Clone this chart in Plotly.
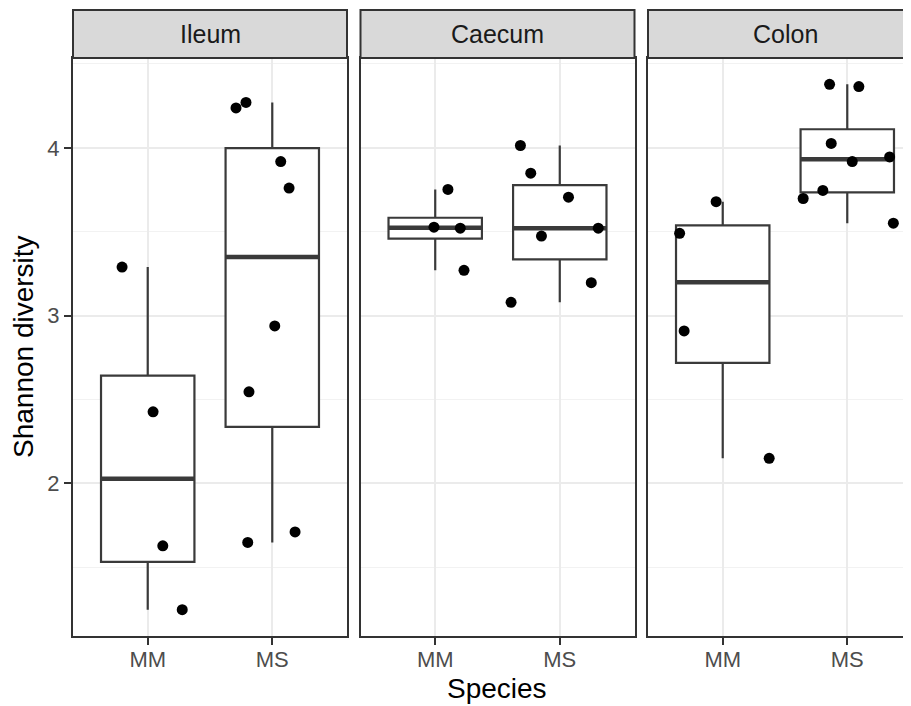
import numpy as np
import plotly.graph_objects as go

# ---------------- data ----------------
tissues = ["Ileum", "Caecum", "Colon"]
species = ["MM", "MS"]

ileum_mm = [3.289, 2.426, 1.627, 1.246]
ileum_mm_jitter = [-0.206, 0.043, 0.121, 0.277]
ileum_ms = [4.238, 4.271, 3.918, 3.760, 2.938, 2.545, 1.647, 1.710]
ileum_ms_jitter = [-0.291, -0.211, 0.068, 0.135, 0.020, -0.187, -0.197, 0.183]

caecum_mm = [3.752, 3.527, 3.521, 3.270]
caecum_mm_jitter = [0.102, -0.010, 0.201, 0.231]
caecum_ms = [4.014, 3.849, 3.706, 3.521, 3.474, 3.196, 3.079]
caecum_ms_jitter = [-0.316, -0.233, 0.070, 0.309, -0.147, 0.253, -0.391]

colon_mm = [3.679, 3.490, 2.908, 2.149]
colon_mm_jitter = [-0.053, -0.346, -0.310, 0.373]
colon_ms = [4.379, 4.365, 4.026, 3.946, 3.918, 3.746, 3.698, 3.551]
colon_ms_jitter = [-0.142, 0.093, -0.129, 0.340, 0.040, -0.196, -0.354, 0.370]

y_ticks = [2, 3, 4]
y_minor = [1.5, 2.5, 3.5, 4.5]

groups = {
    "Ileum": [(ileum_mm, ileum_mm_jitter), (ileum_ms, ileum_ms_jitter)],
    "Caecum": [(caecum_mm, caecum_mm_jitter), (caecum_ms, caecum_ms_jitter)],
    "Colon": [(colon_mm, colon_mm_jitter), (colon_ms, colon_ms_jitter)],
}

# ---------------- layout geometry ----------------
# page body has an 8px margin; work in page pixels and shift into figure pixels
OFF = 8
W, H = 911 - OFF, 706 - OFF
ML, MR, MT, MB = 73 - OFF, 0, 10 - OFF, 70
PW = W - ML - MR
PH = H - MT - MB
panels_px = [(73, 347), (360.5, 634.5), (648, 922)]  # page px; last runs off the page
panel_top_px = 58

def px_to_paper_x(px):
    return (px - OFF - ML) / PW

def px_to_paper_y(py):
    return (H - MB - (py - OFF)) / PH

y_dom_top = px_to_paper_y(panel_top_px)

all_vals = np.concatenate([np.array(v) for t in tissues for v, _ in groups[t]])
vmin, vmax = all_vals.min(), all_vals.max()
pad = 0.05 * (vmax - vmin)
y_range = [vmin - pad, vmax + pad]

LINE = "#333333"
GRID = "#EBEBEB"
FONT = "Liberation Sans, Arial, sans-serif"

fig = go.Figure()

for i, tissue in enumerate(tissues):
    sfx = "" if i == 0 else str(i + 1)
    xa, ya = "x" + sfx, "y" + sfx
    for k, (vals, jit) in enumerate(groups[tissue]):
        pos = k + 1
        arr = np.array(vals)
        q1, med, q3 = np.percentile(arr, [25, 50, 75])
        fig.add_trace(go.Box(
            x=[pos], q1=[q1], median=[med], q3=[q3],
            lowerfence=[arr.min()], upperfence=[arr.max()],
            orientation="v", width=0.75, whiskerwidth=0,
            fillcolor="white", line=dict(color="#3a3a3a", width=2.2),
            boxpoints=False, showlegend=False, hoverinfo="skip",
            xaxis=xa, yaxis=ya,
        ))
        fig.add_trace(go.Scatter(
            x=[pos - 0.375, pos + 0.375], y=[med, med], mode="lines",
            line=dict(color="#3a3a3a", width=4.5), showlegend=False, hoverinfo="skip",
            xaxis=xa, yaxis=ya,
        ))
        fig.add_trace(go.Scatter(
            x=[pos + j for j in jit], y=vals, mode="markers",
            marker=dict(color="#000000", size=11, line=dict(width=0)),
            showlegend=False, hoverinfo="skip", xaxis=xa, yaxis=ya,
        ))

layout = dict(
    width=W, height=H,
    margin=dict(l=ML, r=MR, t=MT, b=MB, pad=0),
    paper_bgcolor="white", plot_bgcolor="white",
    boxmode="overlay",
    font=dict(family=FONT),
    shapes=[], annotations=[],
)

for i, tissue in enumerate(tissues):
    sfx = "" if i == 0 else str(i + 1)
    x0px, x1px = panels_px[i]
    d0 = px_to_paper_x(x0px)
    d1 = min(1.0, px_to_paper_x(x1px))
    full_w = x1px - x0px
    vis_w = (d1 - d0) * PW
    xr = [0.4, 0.4 + 2.2 * vis_w / full_w]
    layout["xaxis" + sfx] = dict(
        domain=[d0, d1], range=xr, anchor="y" + sfx,
        tickvals=[1, 2], ticktext=species,
        showgrid=True, gridcolor=GRID, gridwidth=1.8, zeroline=False,
        showline=True, linecolor=LINE, linewidth=2, mirror=True,
        ticks="outside", ticklen=7, tickwidth=2, tickcolor=LINE,
        ticklabelstandoff=-4,
        tickfont=dict(size=22, color="#4D4D4D", family=FONT),
        fixedrange=True,
    )
    yax = dict(
        domain=[0, y_dom_top], range=y_range, anchor="x" + sfx,
        tickvals=y_ticks, ticktext=[str(t) for t in y_ticks],
        showgrid=True, gridcolor=GRID, gridwidth=1.8, zeroline=False,
        minor=dict(tickvals=y_minor, showgrid=True, gridcolor="#F2F2F2",
                   gridwidth=1.0, ticklen=0),
        showline=True, linecolor=LINE, linewidth=2,
        mirror=(i < 2), fixedrange=True,
    )
    if i == 0:
        yax.update(ticks="outside", ticklen=7, tickwidth=2, tickcolor=LINE,
                   tickfont=dict(size=22, color="#4D4D4D", family=FONT),
                   showticklabels=True)
    else:
        yax.update(ticks="", showticklabels=False)
    layout["yaxis" + sfx] = yax

    # strip
    sx0 = px_to_paper_x(x0px)
    sx1 = px_to_paper_x(x1px)
    layout["shapes"].append(dict(
        type="rect", xref="paper", yref="paper",
        x0=sx0, x1=sx1, y0=y_dom_top, y1=1.0,
        fillcolor="#D9D9D9", line=dict(color=LINE, width=2), layer="above",
    ))
    layout["annotations"].append(dict(
        text=tissue, xref="paper", yref="paper",
        x=(sx0 + sx1) / 2, y=(y_dom_top + 1.0) / 2,
        xanchor="center", yanchor="middle", showarrow=False,
        font=dict(size=25, color="#1A1A1A", family=FONT),
    ))

layout["annotations"].append(dict(
    text="Shannon diversity", xref="paper", yref="paper",
    x=px_to_paper_x(23), y=y_dom_top / 2, textangle=-90,
    xanchor="center", yanchor="middle", showarrow=False,
    font=dict(size=28, color="#000000", family=FONT),
))
layout["annotations"].append(dict(
    text="Species", xref="paper", yref="paper",
    x=px_to_paper_x(497), y=px_to_paper_y(688),
    xanchor="center", yanchor="middle", showarrow=False,
    font=dict(size=28, color="#000000", family=FONT),
))

fig.update_layout(**layout)
fig.write_html("out.html")
